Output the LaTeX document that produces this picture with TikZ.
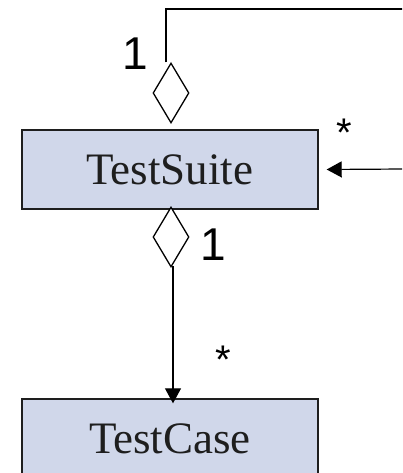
\documentclass[tikz,border=0pt]{standalone}
\usepackage{fontspec}
\setmainfont{Liberation Serif}
\newfontfamily\labelfont{Liberation Sans}
\usetikzlibrary{shapes.geometric,arrows.meta}
\definecolor{classfill}{HTML}{D0D7EA}
\definecolor{ink}{HTML}{1E1E1E}
\tikzset{
  classbox/.style={draw=ink, line width=1.4pt, fill=classfill, text=ink,
    minimum width=296pt, minimum height=79pt, inner sep=0pt,
    font=\fontsize{45}{45}\selectfont},
  aggdiamond/.style={draw=black, line width=1.3pt, fill=white, diamond,
    minimum width=36pt, minimum height=60pt, inner sep=0pt},
  conn/.style={line width=1.2pt, black},
  arrowconn/.style={conn, -{Triangle[width=16pt,length=15pt]}},
  mult/.style={font=\labelfont\fontsize{46}{46}\selectfont, inner sep=0pt},
  multstar/.style={font=\labelfont\fontsize{40}{40}\selectfont, inner sep=0pt}
}
\begin{document}
\begin{tikzpicture}[x=1pt,y=-1pt]
  \clip (0,0) rectangle (402,473);
  \fill[white] (0,0) rectangle (402,473);

  % classes
  \node[classbox] (suite) at (170,169.5) {TestSuite};
  \node[classbox] (case)  at (170,438.5) {TestCase};

  % aggregation diamonds
  \node[aggdiamond] (topd) at (171,93) {};
  \node[aggdiamond] (botd) at (171,237) {};

  % self-association of TestSuite
  \coordinate (selfa) at (166,62.5);
  \coordinate (selfb) at (166,9);
  \coordinate (selfc) at (404,9);
  \coordinate (selfd) at (404,169);
  \draw[conn] (selfa) -- (selfb) -- (selfc);
  \draw[arrowconn] (selfd) -- ([xshift=8pt]suite.east);

  % TestSuite to TestCase
  \coordinate (downa) at (173,266);
  \draw[arrowconn] (downa) -- ([yshift=-5pt]case.north -| downa);

  % multiplicities
  \node[mult] (m1) at (135,54) {1};
  \node[multstar] (m2) at (344,133) {*};
  \node[mult] (m3) at (213,245) {1};
  \node[multstar] (m4) at (223,360) {*};
\end{tikzpicture}
\end{document}
